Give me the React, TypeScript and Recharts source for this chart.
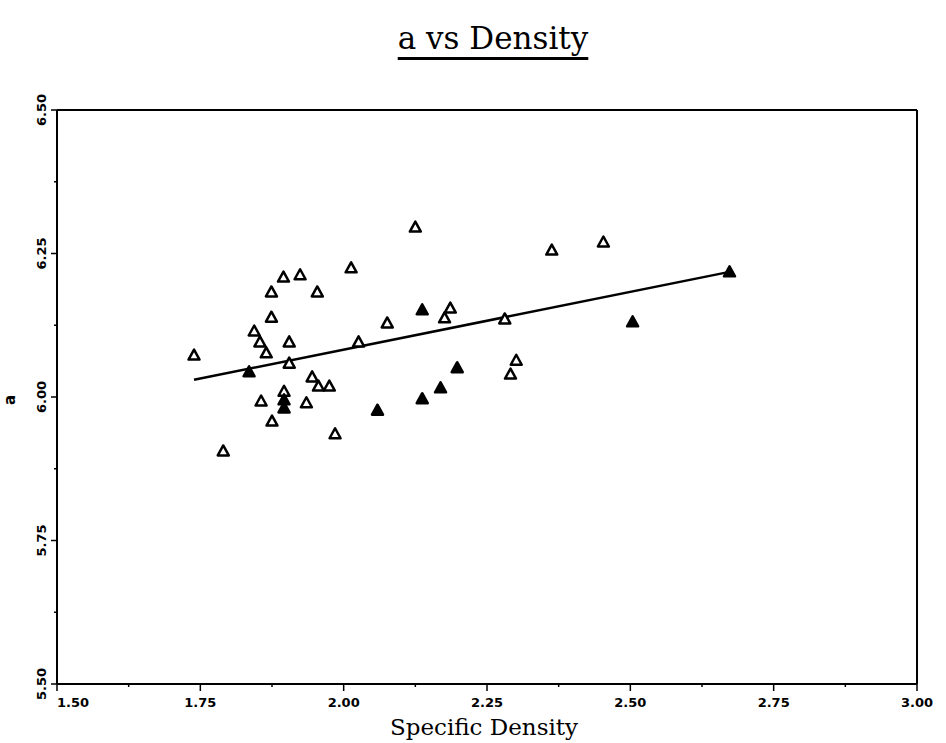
import React from "react"
import { ScatterChart, Scatter, XAxis, YAxis, ReferenceLine } from "recharts"

// open triangles
const openPts = [
  { x: 2.125, y: 6.296 },
  { x: 2.013, y: 6.225 },
  { x: 1.895, y: 6.209 },
  { x: 1.924, y: 6.213 },
  { x: 1.874, y: 6.183 },
  { x: 1.954, y: 6.183 },
  { x: 1.874, y: 6.139 },
  { x: 1.844, y: 6.115 },
  { x: 1.854, y: 6.096 },
  { x: 1.905, y: 6.096 },
  { x: 1.865, y: 6.077 },
  { x: 1.739, y: 6.073 },
  { x: 1.905, y: 6.059 },
  { x: 2.026, y: 6.096 },
  { x: 2.076, y: 6.129 },
  { x: 2.186, y: 6.155 },
  { x: 2.176, y: 6.138 },
  { x: 1.945, y: 6.035 },
  { x: 1.956, y: 6.019 },
  { x: 1.975, y: 6.019 },
  { x: 1.896, y: 6.01 },
  { x: 1.856, y: 5.993 },
  { x: 1.935, y: 5.99 },
  { x: 1.875, y: 5.958 },
  { x: 1.985, y: 5.936 },
  { x: 1.79, y: 5.906 },
  { x: 2.363, y: 6.256 },
  { x: 2.453, y: 6.27 },
  { x: 2.281, y: 6.136 },
  { x: 2.301, y: 6.064 },
  { x: 2.291, y: 6.04 },
]

// filled triangles
const filledPts = [
  { x: 1.835, y: 6.044 },
  { x: 1.896, y: 5.995 },
  { x: 1.896, y: 5.981 },
  { x: 2.059, y: 5.977 },
  { x: 2.137, y: 6.152 },
  { x: 2.137, y: 5.997 },
  { x: 2.169, y: 6.016 },
  { x: 2.198, y: 6.051 },
  { x: 2.504, y: 6.131 },
  { x: 2.673, y: 6.218 },
]

// fitted line end points
const fitLine = [
  { x: 1.739, y: 6.03 },
  { x: 2.673, y: 6.218 },
]

const xTicks = [1.5, 1.625, 1.75, 1.875, 2.0, 2.125, 2.25, 2.375, 2.5, 2.625, 2.75, 2.875, 3.0]
const xLabels: Record<string, string> = {
  "1.5": "1.50", "1.75": "1.75", "2": "2.00", "2.25": "2.25", "2.5": "2.50", "2.75": "2.75", "3": "3.00",
}
const yTicks = [5.5, 5.625, 5.75, 5.875, 6.0, 6.125, 6.25, 6.375, 6.5]
const yLabels: Record<string, string> = {
  "5.5": "5.50", "5.75": "5.75", "6": "6.00", "6.25": "6.25", "6.5": "6.50",
}

const tickFont = { fontFamily: "DejaVu Sans", fontWeight: 700, fontSize: 13, fill: "#000" }

const XTick = ({ x, y, payload }: any) => {
  const label = xLabels[String(payload.value)]
  const first = payload.value === 1.5
  return (
    <g>
      <line x1={x} x2={x} y1={y} y2={y + (label ? 7 : 3)} stroke="#000" strokeWidth={1.5} />
      {label && (
        <text x={x} y={y + 23} textAnchor={first ? "start" : "middle"} {...tickFont}>
          {label}
        </text>
      )}
    </g>
  )
}

const YTick = ({ x, y, payload }: any) => {
  const label = yLabels[String(payload.value)]
  return (
    <g>
      <line x1={x} x2={x - (label ? 6 : 3)} y1={y} y2={y} stroke="#000" strokeWidth={1.5} />
      {label && (
        <text x={x - 11} y={y} textAnchor="middle" transform={`rotate(-90, ${x - 11}, ${y})`} {...tickFont}>
          {label}
        </text>
      )}
    </g>
  )
}

const Tri = ({ cx, cy, filled }: any) => (
  <polygon
    points={`${cx},${cy - 5.5} ${cx - 5.5},${cy + 4.5} ${cx + 5.5},${cy + 4.5}`}
    fill={filled ? "#000" : "#fff"}
    stroke="#000"
    strokeWidth={2.5}
    strokeLinejoin="round"
  />
)

const App = () => {
  return (
    <div style={{ position: "absolute", left: 0, top: 0, width: 946, height: 743, background: "#fff" }}>
      <div
        style={{
          position: "absolute",
          left: 493,
          top: 23,
          transform: "translateX(-50%)",
          fontFamily: "DejaVu Serif",
          fontSize: 31,
          lineHeight: "31px",
          whiteSpace: "nowrap",
          textDecoration: "underline",
          textDecorationThickness: 3,
          textUnderlineOffset: 8,
          textDecorationSkipInk: "none",
          color: "#000",
        }}
      >
        a vs Density
      </div>
      <ScatterChart width={946} height={743} margin={{ top: 110, right: 29, bottom: 19, left: 17 }}>
        <XAxis
          type="number"
          dataKey="x"
          domain={[1.5, 3]}
          ticks={xTicks}
          interval={0}
          height={40}
          tickSize={0}
          tickMargin={0}
          tickLine={false}
          tick={<XTick />}
          axisLine={{ stroke: "#000", strokeWidth: 2 }}
          allowDataOverflow
          label={{
            content: ({ viewBox }: any) => (
              <text
                x={viewBox.x + viewBox.width / 2 - 3}
                y={viewBox.y + 51}
                textAnchor="middle"
                fontFamily="DejaVu Serif"
                fontSize={23}
                fill="#000"
              >
                Specific Density
              </text>
            ),
          }}
        />
        <YAxis
          type="number"
          dataKey="y"
          domain={[5.5, 6.5]}
          ticks={yTicks}
          interval={0}
          width={40}
          tickSize={0}
          tickMargin={0}
          tickLine={false}
          tick={<YTick />}
          axisLine={{ stroke: "#000", strokeWidth: 2 }}
          allowDataOverflow
          label={{
            content: ({ viewBox }: any) => {
              const lx = viewBox.x + viewBox.width - 42
              const ly = viewBox.y + viewBox.height / 2 + 3
              return (
                <text x={lx} y={ly} textAnchor="middle" transform={`rotate(-90, ${lx}, ${ly})`} {...tickFont} fontSize={15}>
                  a
                </text>
              )
            },
          }}
        />
        <ReferenceLine y={6.5} stroke="#000" strokeWidth={2} />
        <ReferenceLine x={3} stroke="#000" strokeWidth={2} />
        <Scatter
          data={fitLine}
          line={{ stroke: "#000", strokeWidth: 2.5 }}
          shape={() => <g />}
          isAnimationActive={false}
        />
        <Scatter data={openPts} shape={(p: any) => <Tri {...p} />} isAnimationActive={false} />
        <Scatter data={filledPts} shape={(p: any) => <Tri {...p} filled />} isAnimationActive={false} />
      </ScatterChart>
    </div>
  )
}

export default App
